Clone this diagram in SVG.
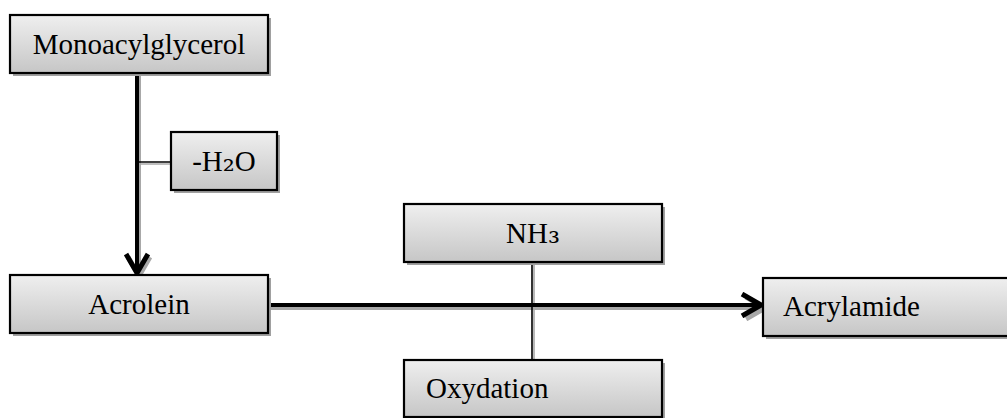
<svg xmlns="http://www.w3.org/2000/svg" width="1007" height="418" viewBox="0 0 1007 418">
  <defs>
    <linearGradient id="g" x1="0" y1="0" x2="0" y2="1">
      <stop offset="0" stop-color="#efefef"/>
      <stop offset="1" stop-color="#c6c6c6"/>
    </linearGradient>
    <marker id="ah" viewBox="0 0 26 26" markerWidth="26" markerHeight="26" refX="21" refY="13" orient="auto" markerUnits="userSpaceOnUse">
      <path d="M2,2 L21,13 L2,24" fill="none" stroke="#000" stroke-width="5" stroke-linejoin="miter"/>
    </marker>
    <marker id="ahs" viewBox="0 0 26 26" markerWidth="26" markerHeight="26" refX="21" refY="13" orient="auto" markerUnits="userSpaceOnUse">
      <path d="M2,2 L21,13 L2,24" fill="none" stroke="#a8a8a8" stroke-width="5"/>
    </marker>
  </defs>
  <style>
    .box { fill: url(#g); stroke: #000; stroke-width: 2.2; }
    .sh { fill: #a0a0a0; }
    .t { font-family: "Liberation Serif", "Times New Roman", serif; font-size: 29px; fill: #000; }
    .sub { font-family: "DejaVu Serif", serif; font-size: 30px; }
    .thick { stroke: #000; stroke-width: 4; fill: none; }
    .thicks { stroke: #a8a8a8; stroke-width: 4; fill: none; }
    .thin { stroke: #000; stroke-width: 1.6; fill: none; }
    .thins { stroke: #a8a8a8; stroke-width: 1.6; fill: none; }
  </style>

  <g id="connectors">
    <line class="thicks" x1="139" y1="76" x2="139" y2="276" marker-end="url(#ahs)"/>
    <line class="thicks" x1="270" y1="308" x2="765" y2="308" marker-end="url(#ahs)"/>
    <line class="thins" x1="138" y1="164" x2="172" y2="164"/>
    <line class="thins" x1="534" y1="264" x2="534" y2="361"/>
    <line class="thick" x1="137" y1="73" x2="137" y2="273" marker-end="url(#ah)"/>
    <line class="thick" x1="268" y1="305" x2="761" y2="305" marker-end="url(#ah)"/>
    <line class="thin" x1="137" y1="162" x2="171" y2="162"/>
    <line class="thin" x1="532" y1="262" x2="532" y2="360"/>
  </g>

  <g id="monoacylglycerol">
    <rect class="sh" x="13" y="18" width="258" height="58"/>
    <rect class="box" x="10" y="15" width="258" height="58"/>
    <text class="t" x="139" y="54" text-anchor="middle">Monoacylglycerol</text>
  </g>

  <g id="h2o">
    <rect class="sh" x="174" y="135" width="106" height="58"/>
    <rect class="box" x="171" y="132" width="106" height="58"/>
    <text class="t" x="224" y="171" text-anchor="middle">-H<tspan class="sub">₂</tspan>O</text>
  </g>

  <g id="acrolein">
    <rect class="sh" x="13" y="278" width="258" height="58"/>
    <rect class="box" x="10" y="275" width="258" height="58"/>
    <text class="t" x="139" y="314" text-anchor="middle">Acrolein</text>
  </g>

  <g id="nh3">
    <rect class="sh" x="407" y="207" width="258" height="58"/>
    <rect class="box" x="404" y="204" width="258" height="58"/>
    <text class="t" x="533" y="243" text-anchor="middle">NH<tspan class="sub">₃</tspan></text>
  </g>

  <g id="oxydation">
    <rect class="sh" x="407" y="363" width="258" height="58"/>
    <rect class="box" x="404" y="360" width="258" height="57"/>
    <text class="t" x="426" y="398">Oxydation</text>
  </g>

  <g id="acrylamide">
    <rect class="sh" x="766" y="281" width="260" height="58"/>
    <rect class="box" x="763" y="278" width="260" height="58"/>
    <text class="t" x="783" y="316">Acrylamide</text>
  </g>
</svg>
